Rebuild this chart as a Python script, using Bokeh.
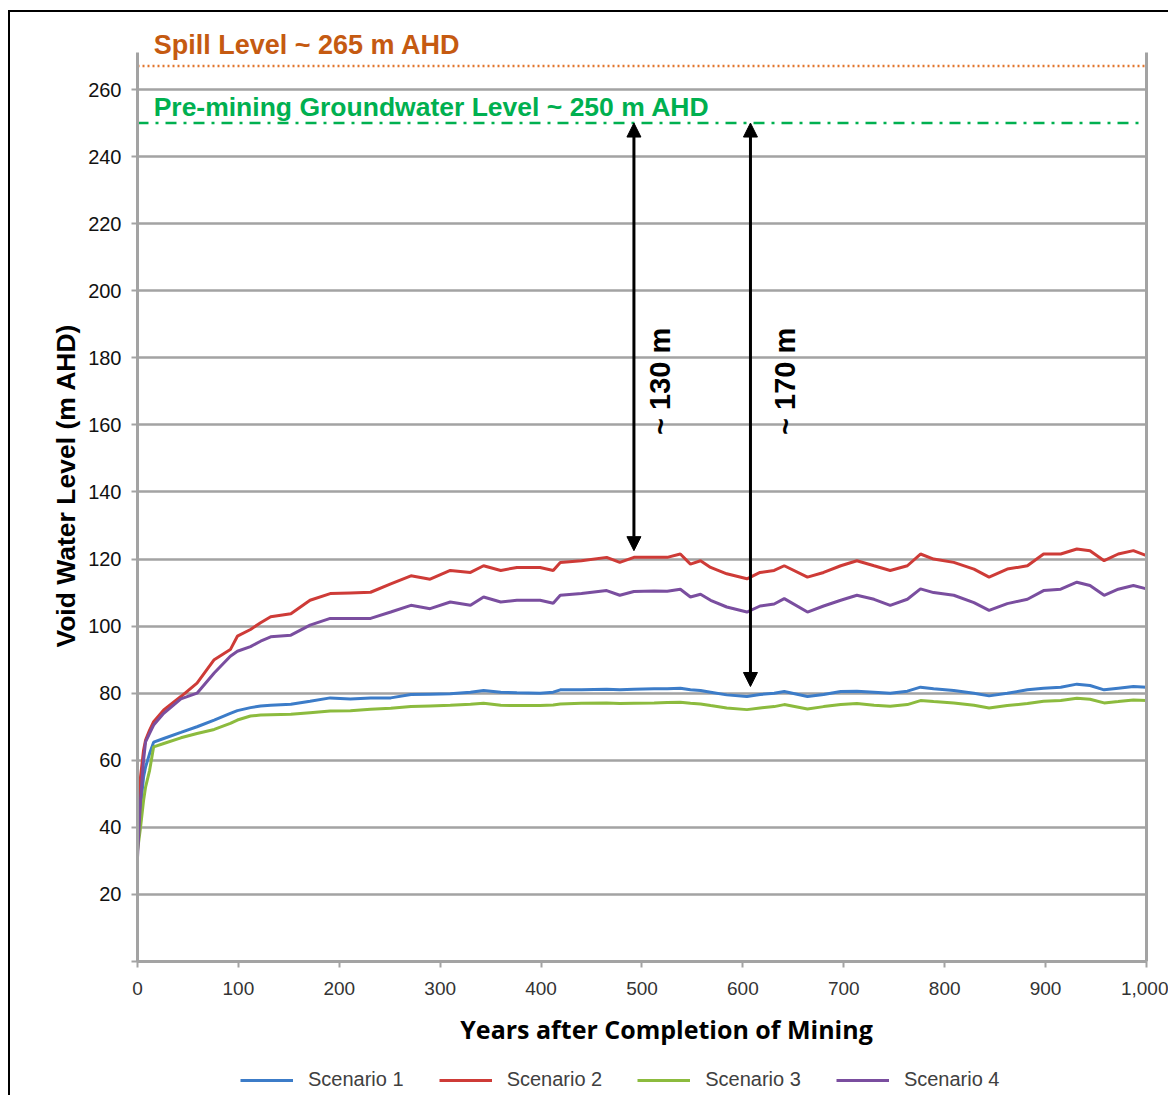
from math import pi
from bokeh.plotting import figure
from bokeh.core.properties import value
from bokeh.models import (Range1d, FixedTicker, LinearAxis, Label, Arrow, NormalHead,
                          ColumnDataSource, Legend, LegendItem, NumeralTickFormatter, LabelSet)
from bokeh.embed import file_html
from bokeh.resources import INLINE

# ---------------- data ----------------
years = [0, 3, 6, 8, 12, 16, 26, 43, 59, 76, 92, 99, 112, 122, 132, 152, 171, 191,
         211, 231, 251, 271, 290, 310, 330, 343, 360, 376, 399, 412, 419, 440, 465, 478,
         492, 512, 525, 538, 548, 558, 568, 584, 604, 617, 631, 641, 664, 680, 697, 713,
         730, 746, 763, 776, 789, 809, 829, 844, 862, 882, 898, 915, 931, 944, 958, 972,
         987, 1000]

scenario_1 = [36, 46, 55, 58, 62, 65.4, 66.5, 68.3, 70, 72, 74, 74.8, 75.7, 76.2, 76.4, 76.7,
              77.6, 78.6, 78.3, 78.6, 78.6, 79.6, 79.7, 79.8, 80.3, 80.8, 80.3, 80.1, 80, 80.3,
              81, 81, 81.2, 81, 81.2, 81.3, 81.3, 81.5, 81, 80.8, 80.3, 79.5, 79, 79.6, 80,
              80.5, 79, 79.6, 80.5, 80.6, 80.3, 80, 80.6, 81.8, 81.3, 80.8, 80, 79.2, 80, 81,
              81.5, 81.8, 82.7, 82.3, 81, 81.5, 82, 81.8]

scenario_2 = [42, 55, 63, 66, 69, 71.5, 75, 79, 83, 90, 93, 97, 99, 101, 102.8, 103.7, 107.7,
              109.7, 109.9, 110.1, 112.6, 115, 114, 116.6, 116, 118, 116.6, 117.5, 117.5, 116.6,
              119, 119.5, 120.5, 119, 120.5, 120.5, 120.5, 121.5, 118.5, 119.5, 117.5, 115.6,
              114.1, 116, 116.6, 118, 114.6, 116, 118, 119.5, 118, 116.6, 118, 121.5, 120, 119,
              117, 114.6, 117, 118, 121.5, 121.5, 123, 122.5, 119.5, 121.5, 122.5, 121]

scenario_3 = [33, 40, 48, 52, 57, 64, 65, 66.7, 68, 69.2, 71, 72, 73.2, 73.5, 73.6, 73.7, 74.2,
              74.7, 74.8, 75.2, 75.5, 76, 76.2, 76.4, 76.7, 77, 76.4, 76.3, 76.3, 76.5, 76.8, 77,
              77.1, 76.9, 77, 77.1, 77.2, 77.3, 77, 76.8, 76.3, 75.6, 75.1, 75.6, 76, 76.6, 75.3,
              76, 76.6, 76.9, 76.4, 76.1, 76.6, 77.8, 77.5, 77.1, 76.4, 75.6, 76.3, 76.9, 77.6,
              77.8, 78.5, 78.2, 77.1, 77.5, 78, 77.8]

scenario_4 = [31, 48, 60, 65.5, 68, 70.5, 74, 78.3, 80, 86, 91, 92.5, 93.9, 95.5, 96.8, 97.3,
              100.3, 102.3, 102.3, 102.3, 104.2, 106.2, 105.2, 107.2, 106.2, 108.7, 107.2, 107.7,
              107.7, 106.8, 109.2, 109.7, 110.6, 109.2, 110.3, 110.5, 110.4, 111, 108.7, 109.5,
              107.7, 105.7, 104.2, 106, 106.6, 108.2, 104.2, 106, 107.7, 109.2, 108, 106.2, 108,
              111.1, 110, 109.2, 107, 104.7, 106.7, 108, 110.6, 111, 113.1, 112.1, 109.2, 111,
              112.1, 111.1]

series_names = ["Scenario 1", "Scenario 2", "Scenario 3", "Scenario 4"]
series_values = [scenario_1, scenario_2, scenario_3, scenario_4]
series_colors = ["#3C7CC8", "#CE3B37", "#8CBB3E", "#7A4E9F"]

x_ticks = list(range(0, 1001, 100))
y_ticks = list(range(0, 261, 20))

spill_level = 267
premining_level = 250
spill_text = "Spill Level ~ 265 m AHD"
premining_text = "Pre-mining Groundwater Level ~ 250 m AHD"

arrow_years = [492, 607.5]
arrow_top = [250, 250]
arrow_bottom = [122.5, 82]
arrow_texts = ["~ 130 m", "~ 170 m"]
arrow_text_years = [518, 642]
arrow_text_levels = [173, 173]

x_title = "Years after Completion of Mining"
y_title = "Void Water Level (m AHD)"

# axis extents
X_MIN, X_MAX = 0, 1000
Y_MIN, Y_TOP = 0, 271

# ---------------- figure ----------------
W, H = 1160, 1085
p = figure(width=W, height=H, output_backend="svg", toolbar_location=None,
           x_range=Range1d(-125.87, 1023.79), y_range=Range1d(-40.55, 282.96),
           min_border=0)
p.styles = {"margin-left": "8px", "margin-top": "10px",
            "border-left": "2px solid black", "border-top": "2px solid black"}
p.outline_line_color = None
p.background_fill_color = "white"
p.border_fill_color = "white"

GREY = "#A3A3A3"
SANS = "Liberation Sans"

# axes drawn at fixed locations inside the frame
xa = p.xaxis[0]
xa.fixed_location = Y_MIN
xa.ticker = FixedTicker(ticks=x_ticks)
xa.formatter = NumeralTickFormatter(format="0,0")
xa.bounds = (X_MIN, X_MAX)
xa.axis_line_color = GREY
xa.axis_line_width = 3
xa.major_tick_line_color = GREY
xa.major_tick_line_width = 2
xa.major_tick_out = 6
xa.major_tick_in = 0
xa.minor_tick_line_color = None
xa.major_label_text_font = SANS
xa.major_label_text_font_size = "19px"
xa.major_label_text_color = "#333333"
xa.major_label_standoff = 14

ya = p.yaxis[0]
ya.fixed_location = X_MIN
ya.ticker = FixedTicker(ticks=y_ticks)
ya.major_label_overrides = {0: ""}
ya.bounds = (Y_MIN, Y_TOP)
ya.axis_line_color = GREY
ya.axis_line_width = 3
ya.major_tick_line_color = GREY
ya.major_tick_line_width = 2
ya.major_tick_out = 6
ya.major_tick_in = 0
ya.minor_tick_line_color = None
ya.major_label_text_font = SANS
ya.major_label_text_font_size = "20px"
ya.major_label_text_color = "#111111"
ya.major_label_standoff = 10

right_axis = LinearAxis(fixed_location=X_MAX, ticker=FixedTicker(ticks=[]),
                        bounds=(Y_MIN, Y_TOP),
                        axis_line_color=GREY, axis_line_width=3,
                        major_tick_line_color=None, minor_tick_line_color=None,
                        major_label_text_font_size="0px")
p.add_layout(right_axis, "right")

# horizontal gridlines limited to the axis extent
p.xgrid.visible = False
g = p.ygrid[0]
if "cross_bounds" in g.properties():
    g.ticker = FixedTicker(ticks=y_ticks)
    g.cross_bounds = (X_MIN, X_MAX)
    g.grid_line_color = GREY
    g.grid_line_width = 2.5
else:
    g.visible = False
    p.segment(x0=X_MIN, x1=X_MAX, y0=y_ticks, y1=y_ticks, line_color=GREY, line_width=2.5)

# level lines
p.segment(x0=X_MIN, x1=X_MAX, y0=spill_level, y1=spill_level, line_color="#E2762E",
          line_width=2.5, line_dash="2 3")
p.segment(x0=X_MIN, x1=X_MAX, y0=premining_level, y1=premining_level, line_color="#00B050",
          line_width=2.5, line_dash="11 7 3 7")

p.add_layout(Label(x=16, y=273.4, text=spill_text, text_font=SANS,
                   text_font_style="bold", text_font_size="27px", text_color="#C55A11",
                   text_baseline="alphabetic"))
p.add_layout(Label(x=16, y=254.8, text=premining_text, text_font=SANS,
                   text_font_style="bold", text_font_size="26.5px", text_color="#00B050",
                   text_baseline="alphabetic"))

# axis titles
p.add_layout(Label(x=524.3, y=-20, text=x_title, text_font="Open Sans",
                   text_font_style="bold", text_font_size="25px", text_color="black",
                   text_align="center", text_baseline="middle"))
p.add_layout(Label(x=-70.4, y=141.9, text=y_title, text_font=SANS, angle=pi / 2,
                   text_font_style="bold", text_font_size="26.5px", text_color="black",
                   text_align="center", text_baseline="middle"))

# series
items = []
for name, vals, col in zip(series_names, series_values, series_colors):
    r = p.line(years, vals, line_color=col, line_width=3)
    items.append(LegendItem(label=name, renderers=[r]))

# arrows
asrc = ColumnDataSource(dict(x=arrow_years, top=arrow_top, bottom=arrow_bottom))
p.add_layout(Arrow(x_start="x", y_start="top", x_end="x", y_end="bottom", source=asrc,
                   line_color="black", line_width=3,
                   start=NormalHead(size=14, fill_color="black", line_color="black"),
                   end=NormalHead(size=14, fill_color="black", line_color="black")))

tsrc = ColumnDataSource(dict(x=arrow_text_years, y=arrow_text_levels, t=arrow_texts))
p.add_layout(LabelSet(x="x", y="y", text="t", source=tsrc, angle=pi / 2,
                      text_font=value(SANS), text_font_style="bold",
                      text_font_size="29px", text_color="black",
                      text_align="center", text_baseline="middle"))

legend = Legend(items=items, orientation="horizontal", location=(230, 6),
                label_text_font=SANS, label_text_font_size="20px",
                label_text_color="#404040", glyph_width=53, glyph_height=20,
                label_standoff=15, spacing=35, padding=0, margin=0,
                border_line_color=None, background_fill_alpha=0)
p.add_layout(legend)

open("out.html", "w").write(file_html(p, INLINE))
